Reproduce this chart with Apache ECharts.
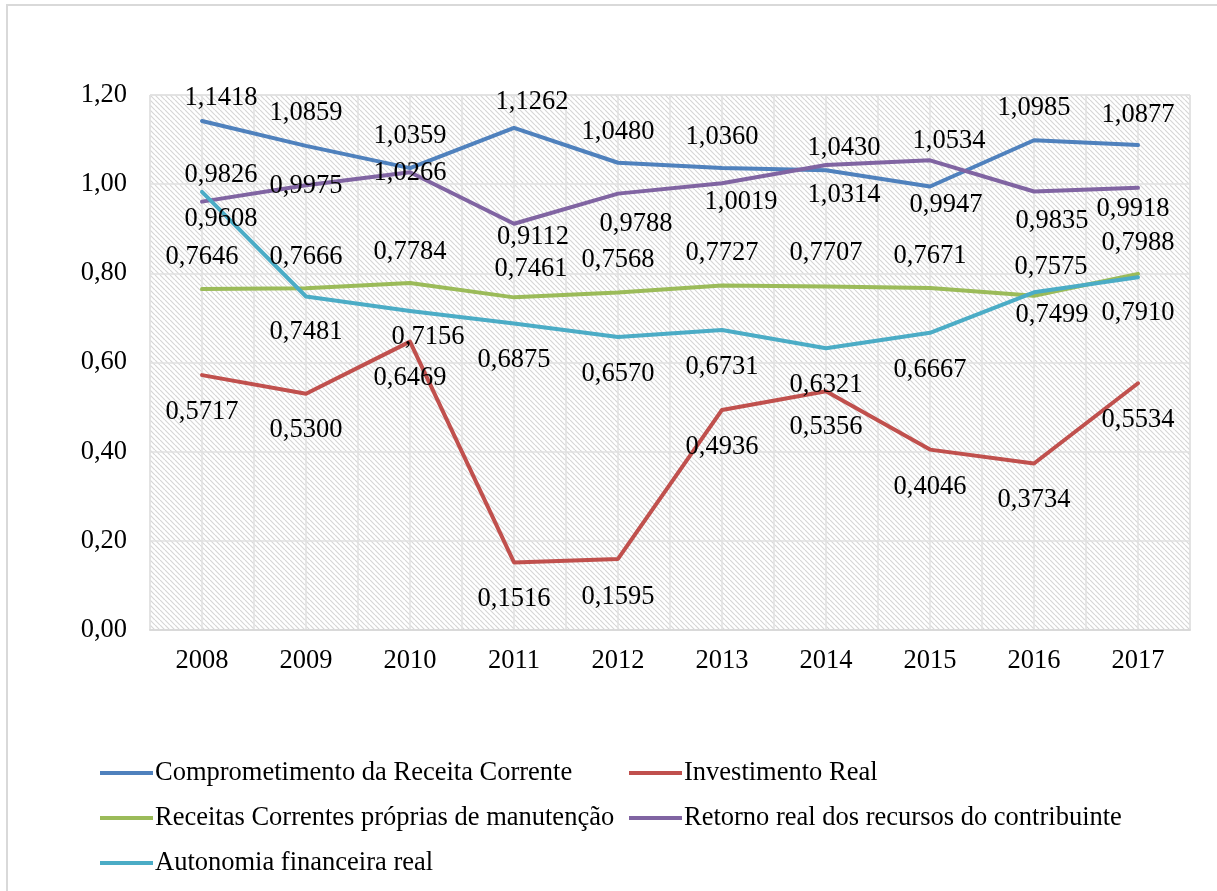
<!DOCTYPE html>
<html>
<head>
<meta charset="utf-8">
<script src="https://cdn.jsdelivr.net/npm/echarts@6/dist/echarts.min.js"></script>
<style>
    html, body {margin: 0; padding: 0; background: #fff;}
    #indicadores-chart {width: 1217px; height: 891px;}
</style>
</head>
<body>
<div id="indicadores-chart"></div>
<script>
// dados do gráfico
var anos = ['2008', '2009', '2010', '2011', '2012', '2013', '2014', '2015', '2016', '2017'];
var yTicks = [0, 0.2, 0.4, 0.6, 0.8, 1.0, 1.2];
var comprometimento = [1.1418, 1.0859, 1.0359, 1.1262, 1.0480, 1.0360, 1.0314, 0.9947, 1.0985, 1.0877];
var investimento = [0.5717, 0.5300, 0.6469, 0.1516, 0.1595, 0.4936, 0.5356, 0.4046, 0.3734, 0.5534];
var receitasProprias = [0.7646, 0.7666, 0.7784, 0.7461, 0.7568, 0.7727, 0.7707, 0.7671, 0.7499, 0.7988];
var retornoReal = [0.9608, 0.9975, 1.0266, 0.9112, 0.9788, 1.0019, 1.0430, 1.0534, 0.9835, 0.9918];
var autonomia = [0.9826, 0.7481, 0.7156, 0.6875, 0.6570, 0.6731, 0.6321, 0.6667, 0.7575, 0.7910];

// posição dos rótulos (deslocamento em px a partir do ponto)
var posComprometimento = [[19, -23], [0, -33], [0, -32], [18, -26], [0, -31], [0, -31], [18, 25], [16, 19], [0, -32], [0, -30]];
var posInvestimento = [[0, 37], [0, 36], [0, 36], [0, 37], [0, 38], [0, 37], [0, 36], [0, 37], [0, 37], [0, 37]];
var posReceitas = [[0, -32], [0, -31], [0, -31], [17, -28], [0, -33], [0, -32], [0, -33], [0, -32], [18, 19], [0, -31]];
var posRetorno = [[19, 17], [0, 1], [0, 1], [19, 13], [18, 30], [19, 19], [18, -17], [19, -19], [18, 30], [-5, 21]];
var posAutonomia = [[19, -17], [0, 36], [18, 26], [0, 37], [0, 37], [0, 37], [0, 37], [0, 37], [17, -25], [0, 36]];

var fonte = '"Liberation Serif", "Times New Roman", serif';
var tamFonte = 26.5;

// fundo hachurado da área de plotagem
function hatchPattern() {
    var n = 5;
    var c = document.createElement('canvas');
    c.width = n;
    c.height = n;
    var ctx = c.getContext('2d');
    ctx.fillStyle = '#ffffff';
    ctx.fillRect(0, 0, n, n);
    ctx.strokeStyle = '#d6d6d6';
    ctx.lineWidth = 1.2;
    ctx.beginPath();
    for (var k = -n; k <= n; k += n) {
        ctx.moveTo(k, 0);
        ctx.lineTo(k + n, n);
    }
    ctx.stroke();
    return {image: c, repeat: 'repeat'};
}

function formatBR(v, d) {
    return v.toFixed(d).replace('.', ',');
}

function buildData(values, pos) {
    var data = [];
    for (var i = 0; i < values.length; i++) {
        data.push({
            value: values[i],
            label: {offset: pos[i]}
        });
    }
    return data;
}

function buildSeries(name, values, pos, color) {
    return {
        name: name,
        type: 'line',
        data: buildData(values, pos),
        symbol: 'circle',
        symbolSize: 1,
        itemStyle: {color: color},
        lineStyle: {color: color, width: 4, cap: 'round', join: 'round'},
        label: {
            show: true,
            position: 'inside',
            color: '#000',
            fontFamily: fonte,
            fontSize: tamFonte,
            formatter: function (p) {
                return formatBR(p.value, 4);
            }
        },
        emphasis: {disabled: true},
        animation: false,
        z: 3
    };
}

function chartInit() {
    var legendText = {fontFamily: fonte, fontSize: tamFonte, color: '#000', lineHeight: 30, padding: [0, 0, 0, -3]};
    var option = {
        animation: false,
        graphic: [{
            type: 'rect',
            shape: {x: 7, y: 5, width: 1230, height: 900},
            style: {fill: 'none', stroke: '#d9d9d9', lineWidth: 2},
            silent: true
        }],
        grid: {
            left: 150,
            right: 27,
            top: 95,
            bottom: 261,
            show: true,
            backgroundColor: hatchPattern(),
            borderColor: '#d9d9d9',
            borderWidth: 1
        },
        legend: [{
            orient: 'vertical',
            left: 95,
            top: 753,
            itemWidth: 53,
            itemHeight: 4,
            itemGap: 15,
            icon: 'rect',
            data: ['Comprometimento da Receita Corrente', 'Receitas Correntes próprias de manutenção', 'Autonomia financeira real'],
            textStyle: legendText
        }, {
            orient: 'vertical',
            left: 624,
            top: 753,
            itemWidth: 53,
            itemHeight: 4,
            itemGap: 15,
            icon: 'rect',
            data: ['Investimento Real', 'Retorno real dos recursos do contribuinte'],
            textStyle: legendText
        }],
        xAxis: [{
            type: 'category',
            data: anos,
            boundaryGap: true,
            axisLine: {lineStyle: {color: '#d9d9d9', width: 2}},
            axisTick: {show: false},
            splitLine: {show: false},
            axisLabel: {color: '#000', fontFamily: fonte, fontSize: tamFonte, margin: 18}
        }, {
            // eixo auxiliar só para as linhas de grade verticais
            type: 'value',
            min: 0,
            max: anos.length * 2,
            interval: 1,
            show: true,
            axisLine: {show: false},
            axisTick: {show: false},
            axisLabel: {show: false},
            splitLine: {show: true, lineStyle: {color: '#e0e0e0', width: 1.5}}
        }],
        yAxis: {
            type: 'value',
            min: yTicks[0],
            max: yTicks[yTicks.length - 1],
            interval: yTicks[1] - yTicks[0],
            axisLine: {show: false},
            axisTick: {show: false},
            splitLine: {show: true, lineStyle: {color: '#e0e0e0', width: 1.5}},
            axisLabel: {
                color: '#000',
                fontFamily: fonte,
                fontSize: tamFonte,
                margin: 23,
                formatter: function (v) {
                    return formatBR(v, 2);
                }
            }
        },
        series: [
            buildSeries('Comprometimento da Receita Corrente', comprometimento, posComprometimento, '#4f81bd'),
            buildSeries('Investimento Real', investimento, posInvestimento, '#c0504d'),
            buildSeries('Receitas Correntes próprias de manutenção', receitasProprias, posReceitas, '#9bbb59'),
            buildSeries('Retorno real dos recursos do contribuinte', retornoReal, posRetorno, '#8064a2'),
            buildSeries('Autonomia financeira real', autonomia, posAutonomia, '#4bacc6')
        ]
    };

    var chart = echarts.init(document.getElementById('indicadores-chart'));
    chart.setOption(option);
}

chartInit();
</script>
</body>
</html>
